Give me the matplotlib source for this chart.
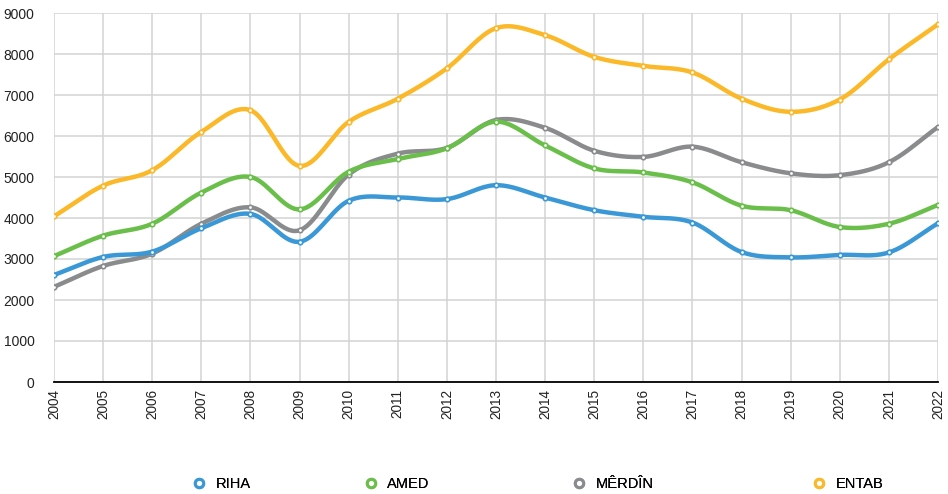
import numpy as np
import matplotlib
matplotlib.use("Agg")
import matplotlib.pyplot as plt
from matplotlib.lines import Line2D

years = list(range(2004, 2023))
riha = [2610, 3050, 3180, 3750, 4100, 3420, 4420, 4500, 4460, 4800, 4500, 4190, 4030, 3890, 3170, 3040, 3100, 3160, 3870]
amed = [3070, 3570, 3860, 4620, 5000, 4210, 5130, 5440, 5700, 6350, 5770, 5210, 5110, 4870, 4300, 4190, 3780, 3860, 4320]
merdin = [2320, 2830, 3130, 3860, 4260, 3700, 5060, 5570, 5710, 6390, 6200, 5640, 5490, 5740, 5360, 5090, 5045, 5360, 6220]
entab = [4040, 4790, 5165, 6100, 6630, 5270, 6345, 6910, 7650, 8630, 8460, 7930, 7710, 7550, 6910, 6590, 6890, 7870, 8725]
names = ["RIHA", "AMED", "MÊRDÎN", "ENTAB"]
colors = ["#3a98d6", "#6abf4b", "#8a8b8c", "#fbb829"]
series = [riha, amed, merdin, entab]

plt.rcParams['font.family'] = ['Liberation Sans', 'DejaVu Sans']

def catmull(x, y, n=20):
    x = np.asarray(x, float); y = np.asarray(y, float)
    px = np.concatenate([[2*x[0]-x[1]], x, [2*x[-1]-x[-2]]])
    py = np.concatenate([[2*y[0]-y[1]], y, [2*y[-1]-y[-2]]])
    xs, ys = [], []
    t = np.linspace(0, 1, n, endpoint=False)
    for i in range(1, len(px)-2):
        p0, p1, p2, p3 = py[i-1], py[i], py[i+1], py[i+2]
        m1 = (p2 - p0) / 2; m2 = (p3 - p1) / 2
        h00 = 2*t**3 - 3*t**2 + 1; h10 = t**3 - 2*t**2 + t
        h01 = -2*t**3 + 3*t**2; h11 = t**3 - t**2
        ys.append(h00*p1 + h10*m1 + h01*p2 + h11*m2)
        xs.append(px[i] + t*(px[i+1]-px[i]))
    xs.append([x[-1]]); ys.append([y[-1]])
    return np.concatenate(xs), np.concatenate(ys)

fig = plt.figure(figsize=(9.48, 4.94), dpi=100)
ax = fig.add_axes([54/948, 1-382/494, (938-54)/948, (382-13)/494])

for i, (s, c) in enumerate(zip(series, colors)):
    z = 10 - i
    xs, ys = catmull(years, s)
    ax.plot(xs, ys, color=c, lw=3.2, zorder=z, solid_capstyle='round')
    ax.plot(years, s, linestyle='none', marker='o', ms=3.2, mfc='white', mec=c, mew=1.2, zorder=z+0.5)

ax.set_xlim(2004, 2022)
ax.set_ylim(0, 9000)
ax.set_xticks(years)
ax.set_xticklabels([str(y) for y in years], rotation=90, fontsize=9.8)
ax.set_yticks(range(0, 9001, 1000))
ax.set_yticklabels([str(v) for v in range(0, 9001, 1000)], fontsize=10)
ax.grid(True, color='#d3d3d3', lw=1.1, zorder=0)
ax.set_axisbelow(True)
for sp in ['top', 'right', 'left']:
    ax.spines[sp].set_visible(False)
ax.spines['bottom'].set_color('black')
ax.spines['bottom'].set_linewidth(1.3)
ax.spines['bottom'].set_zorder(20)
ax.tick_params(axis='both', length=0, pad=5, colors='#222222')
ax.tick_params(axis='y', pad=14)

legend_x = [200, 372, 580, 820]
for nm, c, lx in zip(names, colors, legend_x):
    h = Line2D([], [], linestyle='none', marker='o', ms=6, mfc='white', mec=c, mew=2.2)
    lg = fig.legend([h], [nm], loc='center left', bbox_to_anchor=((lx-8)/948, 1-484/494),
                    frameon=False, fontsize=10.5, handlelength=1.0, handletextpad=0.6, borderpad=0, borderaxespad=0)
    fig.add_artist(lg)

fig.savefig("out.png", dpi=100)
